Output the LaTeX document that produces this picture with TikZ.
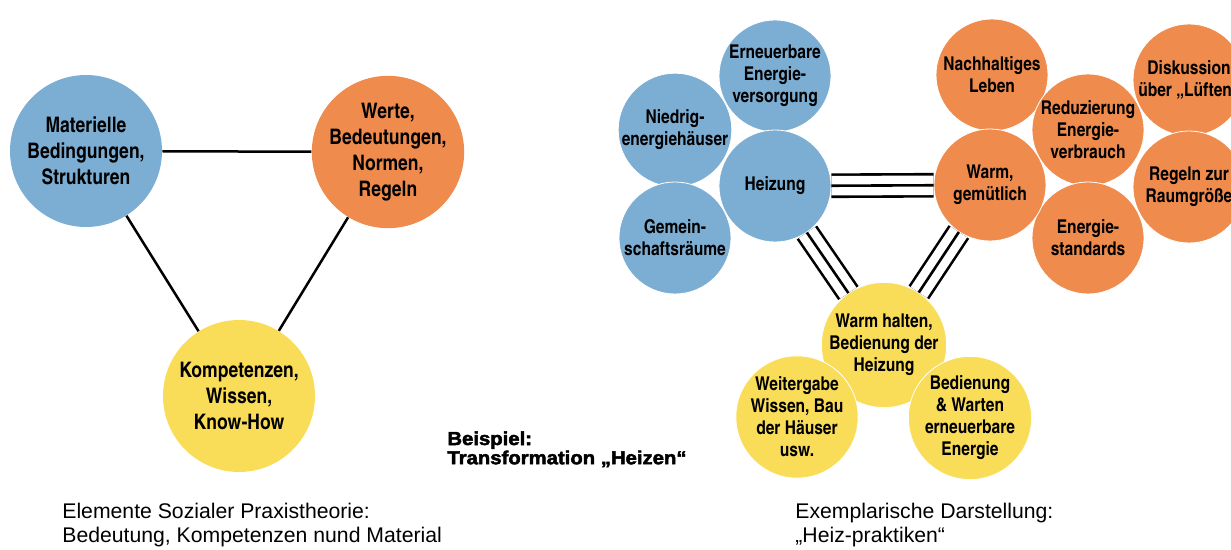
\documentclass[tikz,border=0pt]{standalone}
\usepackage{fontspec}
\setmainfont{Liberation Sans}
\newfontfamily\cnfont{texgyreheroscn}[Extension=.otf,UprightFont=*-regular,BoldFont=*-bold]
\newfontfamily\heavyfont{Liberation Sans}[FakeStretch=1.08,BoldFeatures={FakeBold=2.5}]
\definecolor{elblue}{RGB}{124,174,212}
\definecolor{elorange}{RGB}{239,139,77}
\definecolor{elyellow}{RGB}{249,221,89}
\begin{document}
\begin{tikzpicture}[x=0.5pt,y=-0.5pt,
	element/.style={circle,minimum size=76pt,inner sep=0pt,align=center,
		font=\cnfont\bfseries\fontsize{10.7}{13}\selectfont},
	practice/.style={circle,minimum size=56pt,inner sep=0pt,align=center,draw=white,line width=0.4pt,
		font=\cnfont\bfseries\fontsize{9.5}{11}\selectfont},
	caption/.style={anchor=north west,align=left,inner sep=0pt,font=\fontsize{10.6}{12}\selectfont},
	triple/.style={double,double distance=9.75pt,line width=1.3pt}]
	\useasboundingbox (0,0) rectangle (1231,550);
	% Elemente sozialer Praxistheorie
	\node[element,fill=elblue] (mat) at (86,151) {Materielle\\Bedingungen,\\Strukturen};
	\node[element,fill=elorange] (wer) at (388,152) {Werte,\\Bedeutungen,\\Normen,\\Regeln};
	\node[element,fill=elyellow] (kom) at (239,396) {Kompetenzen,\\Wissen,\\Know-How};
	\draw[line width=1.25pt] (mat)--(wer) (mat)--(kom) (wer)--(kom);
	% Material
	\node[practice,fill=elblue] (nd) at (675,130) {Niedrig-\\energiehäuser};
	\node[practice,fill=elblue] (gr) at (675,238) {Gemein-\\schaftsräume};
	\node[practice,fill=elblue] (ne) at (775,76) {Erneuerbare\\Energie-\\versorgung};
	\node[practice,fill=elblue] (hz) at (775,186) {Heizung};
	% Bedeutung
	\node[practice,fill=elorange] (nl) at (992,75) {Nachhaltiges\\Leben};
	\node[practice,fill=elorange] (ds) at (1189,80) {Diskussion\\über „Lüften“};
	\node[practice,fill=elorange] (rz) at (1189,187) {Regeln zur\\Raumgröße};
	\node[practice,fill=elorange] (rd) at (1088,130) {Reduzierung\\Energie-\\verbrauch};
	\node[practice,fill=elorange] (es) at (1088,238) {Energie-\\standards};
	\node[practice,fill=elorange] (wg) at (990,185) {Warm,\\gemütlich};
	% Kompetenz
	\node[practice,fill=elyellow] (wh) at (884,345) {Warm halten,\\Bedienung der\\Heizung};
	\node[practice,fill=elyellow] (wb) at (797,417) {Weitergabe\\Wissen, Bau\\der Häuser\\usw.};
	\node[practice,fill=elyellow] (bw) at (970,418) {Bedienung\\\& Warten\\erneuerbare\\Energie};
	\foreach \a/\b in {hz/wg,hz/wh,wg/wh}{
		\draw[triple] (\a)--(\b);
		\draw[line width=1.3pt] (\a)--(\b);
	}
	\node[anchor=north west,align=left,inner sep=0pt,font=\heavyfont\bfseries\fontsize{9.4}{9.6}\selectfont] (bsp) at (447,431)
		{Beispiel:\\Transformation „Heizen“};
	\node[caption] (cap1) at (62,503) {Elemente Sozialer Praxistheorie:\\Bedeutung, Kompetenzen nund Material};
	\node[caption] (cap2) at (795,503) {Exemplarische Darstellung:\\„Heiz-praktiken“};
\end{tikzpicture}
\end{document}
